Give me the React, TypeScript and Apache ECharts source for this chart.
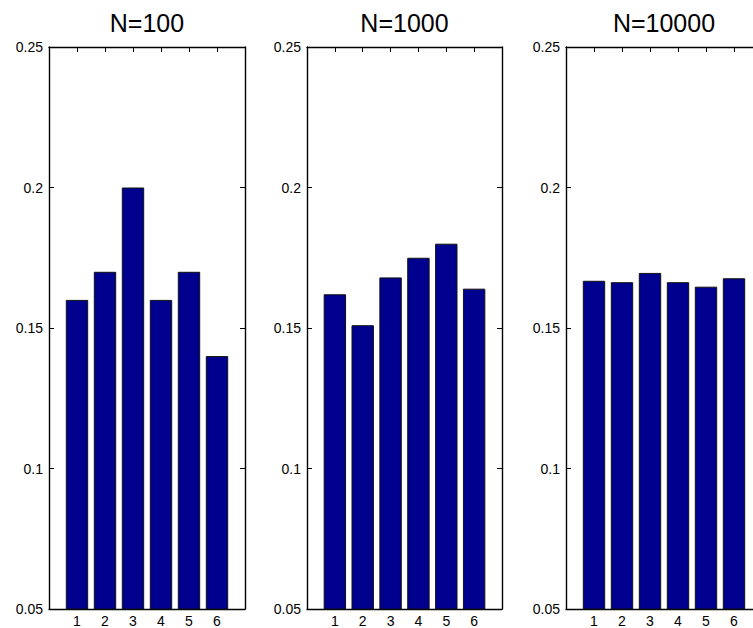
import React, { useEffect, useRef } from "react";
import * as echarts from "echarts";

const titles = ["N=100", "N=1000", "N=10000"];
const categories = [1, 2, 3, 4, 5, 6];
const valuesN100 = [0.16, 0.17, 0.2, 0.16, 0.17, 0.14];
const valuesN1000 = [0.162, 0.151, 0.168, 0.175, 0.18, 0.164];
const valuesN10000 = [0.1668, 0.1663, 0.1696, 0.1663, 0.1647, 0.1677];
const yTicks = [0.05, 0.1, 0.15, 0.2, 0.25];

const allValues = [valuesN100, valuesN1000, valuesN10000];
const gridLefts = [49, 307, 566];
const gridWidths = [196, 195, 196];
const FONT = "'Liberation Sans', Arial, Helvetica, sans-serif";

export default function App() {
  const ref = useRef<HTMLDivElement>(null);
  useEffect(() => {
    if (!ref.current) return;
    const chart = echarts.init(ref.current, undefined, { renderer: "svg" });
    const grids: any[] = [];
    const xAxes: any[] = [];
    const yAxes: any[] = [];
    const series: any[] = [];
    const title: any[] = [];
    allValues.forEach((vals, i) => {
      grids.push({ left: gridLefts[i], top: 47, width: gridWidths[i], height: 562, show: false });
      title.push({
        text: titles[i],
        left: gridLefts[i] + gridWidths[i] / 2,
        top: 10,
        textAlign: "center",
        padding: 0,
        textStyle: { fontFamily: FONT, fontSize: 25, fontWeight: "normal", color: "#000" },
      });
      const axisLine = { show: true, onZero: false, lineStyle: { color: "#000", width: 1.4 } };
      const tick = { show: true, inside: true, length: 5, lineStyle: { color: "#000" } };
      xAxes.push({
        type: "value", gridIndex: i, min: 0, max: 7, interval: 1, position: "bottom",
        axisLine, axisTick: tick, splitLine: { show: false },
        axisLabel: {
          show: true, margin: 5, color: "#000", fontFamily: FONT, fontSize: 14,
          formatter: (v: number) => (categories.includes(v) ? String(v) : ""),
        },
      });
      xAxes.push({
        type: "value", gridIndex: i, min: 0, max: 7, interval: 1, position: "top",
        axisLine, axisTick: tick, splitLine: { show: false }, axisLabel: { show: false },
      });
      yAxes.push({
        type: "value", gridIndex: i, min: yTicks[0], max: yTicks[yTicks.length - 1], interval: 0.05,
        position: "left", axisLine, axisTick: tick, splitLine: { show: false },
        axisLabel: {
          show: true, margin: 6, color: "#000", fontFamily: FONT, fontSize: 14,
          formatter: (v: number) => String(+v.toFixed(2)),
        },
      });
      yAxes.push({
        type: "value", gridIndex: i, min: yTicks[0], max: yTicks[yTicks.length - 1], interval: 0.05,
        position: "right", axisLine, axisTick: tick, splitLine: { show: false }, axisLabel: { show: false },
      });
      series.push({
        type: "bar",
        xAxisIndex: i * 2,
        yAxisIndex: i * 2,
        barWidth: 22.4,
        data: categories.map((c, j) => [c, vals[j]]),
        itemStyle: { color: "#00008F", borderColor: "#111", borderWidth: 1 },
        emphasis: { disabled: true },
      });
    });
    chart.setOption({
      animation: false,
      backgroundColor: "#fff",
      title,
      grid: grids,
      xAxis: xAxes,
      yAxis: yAxes,
      series,
    });
    return () => chart.dispose();
  }, []);
  return (
    <div style={{ position: "fixed", left: 0, top: 0, width: 753, height: 628, overflow: "hidden", background: "#fff" }}>
      <div ref={ref} style={{ width: 790, height: 628 }} />
    </div>
  );
}
